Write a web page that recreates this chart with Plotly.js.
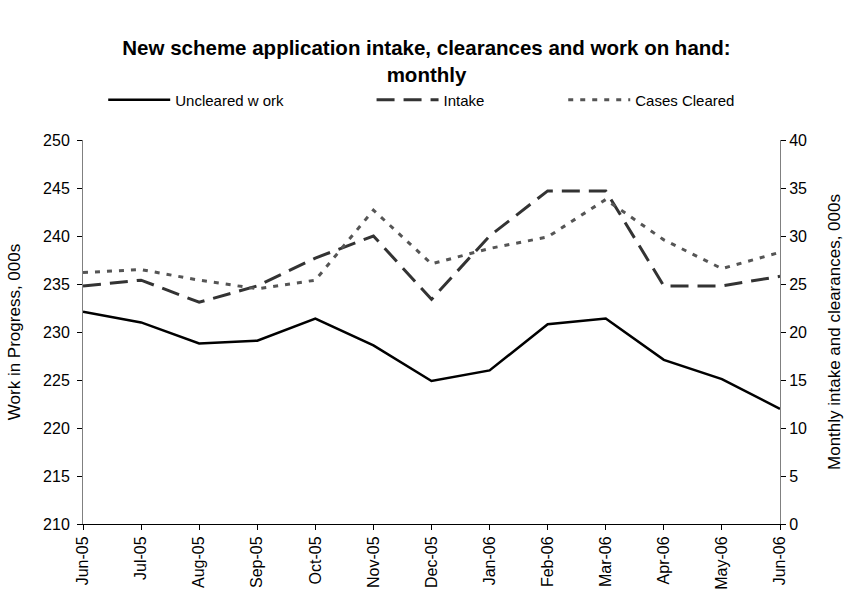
<!DOCTYPE html>
<html>
<head>
<meta charset="utf-8">
<script src="https://cdn.plot.ly/plotly-3.0.1.min.js"></script>
<style>
  body { margin: 0; background: #fff; }
  #plot { width: 853px; height: 594px; }
</style>
</head>
<body>
<div id="plot"></div>
<script>
const months = ['Jun-05','Jul-05','Aug-05','Sep-05','Oct-05','Nov-05','Dec-05',
                'Jan-06','Feb-06','Mar-06','Apr-06','May-06','Jun-06'];

// left axis, 000s
const unclearedWork = [232.1, 231.0, 228.8, 229.1, 231.4, 228.6, 224.9, 226.0, 230.8, 231.4, 227.1, 225.1, 222.0];
// right axis, 000s
const intake = [24.8, 25.4, 23.1, 24.8, 27.7, 30.0, 23.4, 30.0, 34.7, 34.7, 24.8, 24.8, 25.8];
const casesCleared = [26.2, 26.5, 25.4, 24.5, 25.4, 32.7, 27.1, 28.7, 29.9, 33.8, 29.6, 26.6, 28.3];

const font = 'Liberation Sans, Arial, sans-serif';

const traces = [
  {
    x: months, y: unclearedWork, name: 'Uncleared w ork', legend: 'legend',
    type: 'scatter', mode: 'lines',
    line: {color: '#000000', width: 2.5}
  },
  {
    x: months, y: intake, name: 'Intake', yaxis: 'y2', legend: 'legend2',
    type: 'scatter', mode: 'lines',
    line: {color: '#333333', width: 3, dash: '18px,9px'}
  },
  {
    x: months, y: casesCleared, name: 'Cases Cleared', yaxis: 'y2', legend: 'legend3',
    type: 'scatter', mode: 'lines',
    line: {color: '#555555', width: 3, dash: '5px,7px'}
  }
];

// one legend box per entry so the uneven Excel spacing can be kept
function legendAt(x) {
  return {
    orientation: 'h', x: x, xanchor: 'left', y: 1.104, yanchor: 'middle',
    font: {family: font, size: 15, color: '#000'}, itemwidth: 62,
    bgcolor: 'rgba(0,0,0,0)'
  };
}

const ax = {
  showline: true, linewidth: 1,
  ticks: 'outside', ticklen: 5, tickcolor: '#000',
  showgrid: false, zeroline: false,
  tickfont: {family: font, size: 16, color: '#000'}
};

const layout = {
  width: 853, height: 594,
  margin: {l: 83, r: 73, t: 140, b: 70},
  paper_bgcolor: 'white', plot_bgcolor: 'white',
  font: {family: font, size: 16, color: '#000'},
  showlegend: true,
  title: {
    text: '<b>New scheme application intake, clearances and work on hand:<br>monthly</b>',
    font: {family: font, size: 20.5, color: '#000'},
    x: 0.5, xanchor: 'center', y: 0.907, yanchor: 'top'
  },
  legend: legendAt(0.029),
  legend2: legendAt(0.414),
  legend3: legendAt(0.689),
  xaxis: Object.assign({}, ax, {
    type: 'category', range: [0, 12],
    linecolor: '#000', tickangle: -90
  }),
  yaxis: Object.assign({}, ax, {
    range: [210, 250], dtick: 5, linecolor: '#808080', ticklabelstandoff: 4,
    title: {text: 'Work in Progress, 000s', font: {family: font, size: 17}, standoff: 18}
  }),
  yaxis2: Object.assign({}, ax, {
    range: [0, 40], dtick: 5, overlaying: 'y', side: 'right', linecolor: '#808080',
    title: {text: 'Monthly intake and clearances, 000s', font: {family: font, size: 17}, standoff: 22}
  })
};

Plotly.newPlot('plot', traces, layout, {displayModeBar: false, staticPlot: true});
</script>
</body>
</html>
